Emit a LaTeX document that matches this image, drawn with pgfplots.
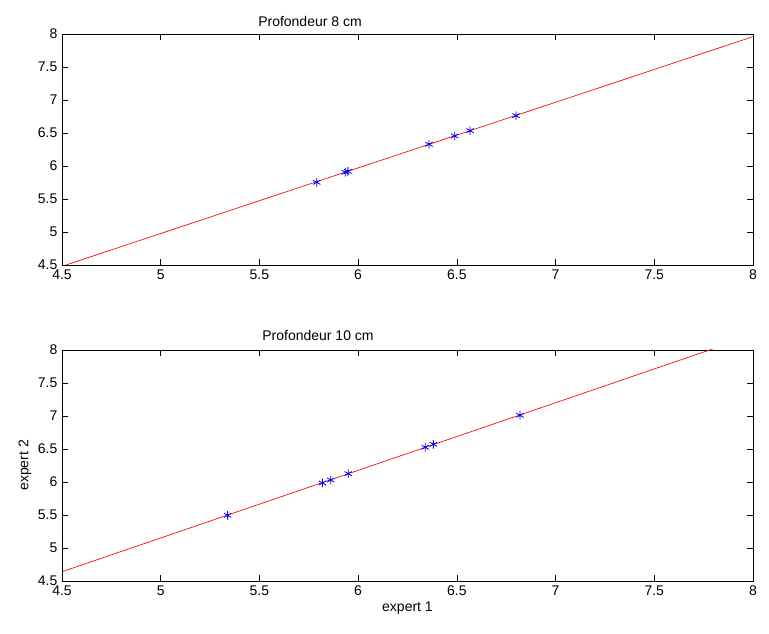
\documentclass[border=0pt]{standalone}
\usepackage{pgfplots}
\pgfplotsset{compat=1.18}
\usepackage{fontspec}
\setmainfont{Liberation Sans}
\begin{document}
\begin{tikzpicture}
\useasboundingbox (0pt,0pt) rectangle (576.75pt,475.5pt);
\pgfplotsset{
  myax/.style={
    anchor=south west,
    scale only axis, width=518.25pt, height=173.25pt,
    xmin=4.5, xmax=8, ymin=4.5, ymax=8,
    xtick={4.5,5,...,8}, ytick={4.5,5,...,8},
    tick align=inside, major tick length=4.5pt,
    xticklabel style={/pgf/number format/fixed, /pgf/number format/precision=1},
    yticklabel style={/pgf/number format/fixed, /pgf/number format/precision=1},
    /pgf/number format/assume math mode=true,
    tick label style={font=\fontsize{10.5}{12}\selectfont},
    label style={font=\fontsize{10.5}{12}\selectfont},
    axis line style={line width=0.6pt},
    every tick/.style={black, line width=0.4pt},
    clip=true,
  }
}
\begin{axis}[myax, at={(46.5pt,276.75pt)}]
\addplot[red, line width=0.5pt] coordinates {(4.5,4.48) (8,7.96)};
\addplot[only marks, blue, mark=asterisk, mark size=3.2pt, mark options={line width=0.6pt}] coordinates {
(5.79,5.753) (5.935,5.905) (5.948,5.918) (6.359,6.329) (6.489,6.455) (6.567,6.535) (6.80,6.762)};
\end{axis}
\node[font=\fontsize{10.5}{12}\selectfont] at (232.5pt,459pt) {Profondeur 8 cm};
\begin{axis}[myax, at={(46.5pt,39.75pt)}, xlabel={expert 1}, ylabel={expert 2},
  xlabel style={yshift=2pt}, ylabel style={yshift=-2pt}]
\addplot[red, line width=0.5pt] coordinates {(4.5,4.64) (8,8.225)};
\addplot[only marks, blue, mark=asterisk, mark size=3.2pt, mark options={line width=0.6pt}] coordinates {
(5.339,5.495) (5.819,5.985) (5.861,6.03) (5.95,6.126) (6.34,6.526) (6.381,6.571) (6.82,7.011)};
\end{axis}
\node[font=\fontsize{10.5}{12}\selectfont] at (238.5pt,223.5pt) {Profondeur 10 cm};
\end{tikzpicture}
\end{document}
